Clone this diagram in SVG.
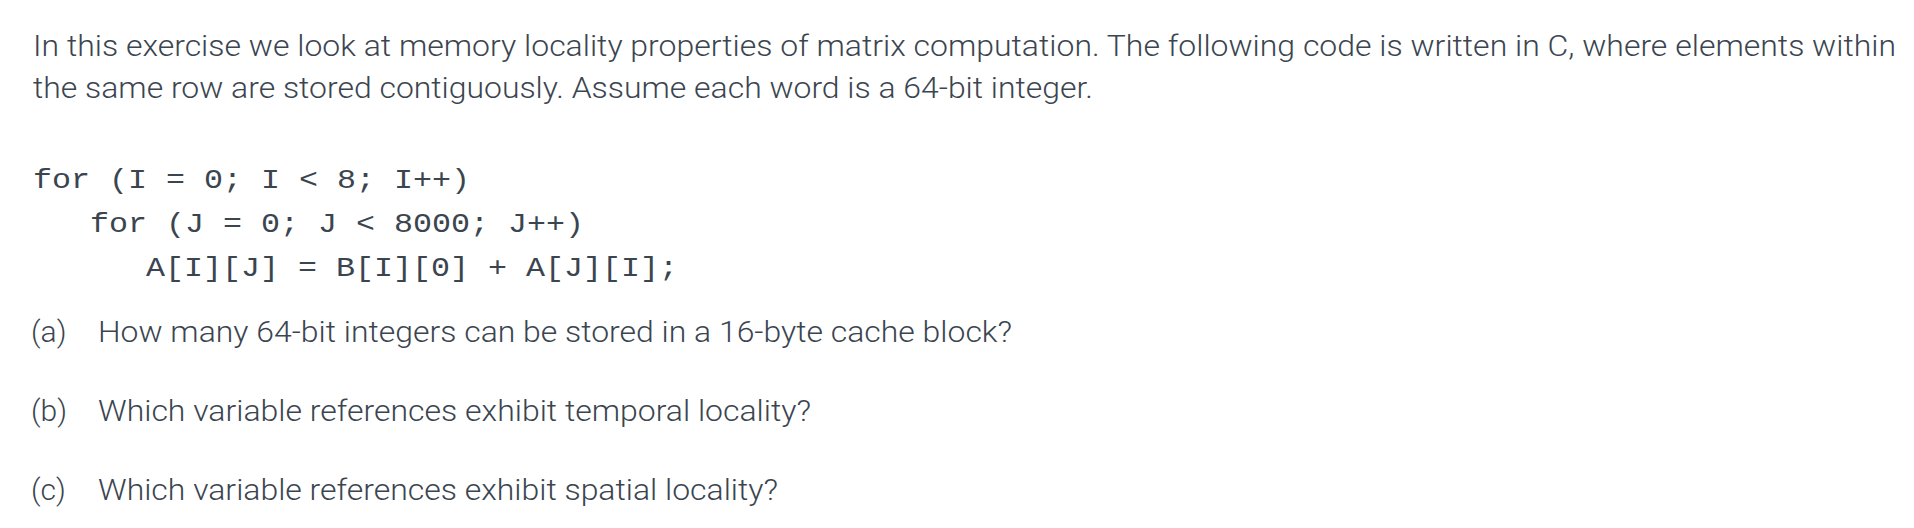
<svg xmlns="http://www.w3.org/2000/svg" width="1914" height="528" viewBox="0 0 1914 528">
<style>
.t{font-family:Roboto,"Liberation Sans",sans-serif;font-weight:300;font-size:29px;fill:#3b4550}
.q{font-family:Roboto,"Liberation Sans",sans-serif;font-weight:300;font-size:30px;fill:#3b4550}
.c{font-family:"Liberation Mono","DejaVu Sans Mono",monospace;font-size:28px;fill:#3b4550}
</style>
<rect width="1914" height="528" fill="#fff"/>
<g id="intro">
<text class="t" x="33" y="56" textLength="1863" lengthAdjust="spacingAndGlyphs">In this exercise we look at memory locality properties of matrix computation. The following code is written in C, where elements within</text>
<text class="t" x="33" y="98" textLength="1060" lengthAdjust="spacingAndGlyphs">the same row are stored contiguously. Assume each word is a 64-bit integer.</text>
</g>
<g id="code">
<text class="c" x="33" y="188" textLength="437" lengthAdjust="spacingAndGlyphs">for (I = 0; I &lt; 8; I++)</text>
<text class="c" x="90" y="232" textLength="494" lengthAdjust="spacingAndGlyphs">for (J = 0; J &lt; 8000; J++)</text>
<text class="c" x="146" y="276" textLength="532" lengthAdjust="spacingAndGlyphs">A[I][J] = B[I][0] + A[J][I];</text>
</g>
<g id="questions">
<text class="q" x="31" y="342">(a)</text>
<text class="q" x="98" y="342" textLength="914" lengthAdjust="spacingAndGlyphs">How many 64-bit integers can be stored in a 16-byte cache block?</text>
<text class="q" x="31" y="421">(b)</text>
<text class="q" x="98" y="421" textLength="713" lengthAdjust="spacingAndGlyphs">Which variable references exhibit temporal locality?</text>
<text class="q" x="31" y="500">(c)</text>
<text class="q" x="98" y="500" textLength="680" lengthAdjust="spacingAndGlyphs">Which variable references exhibit spatial locality?</text>
</g>
</svg>
